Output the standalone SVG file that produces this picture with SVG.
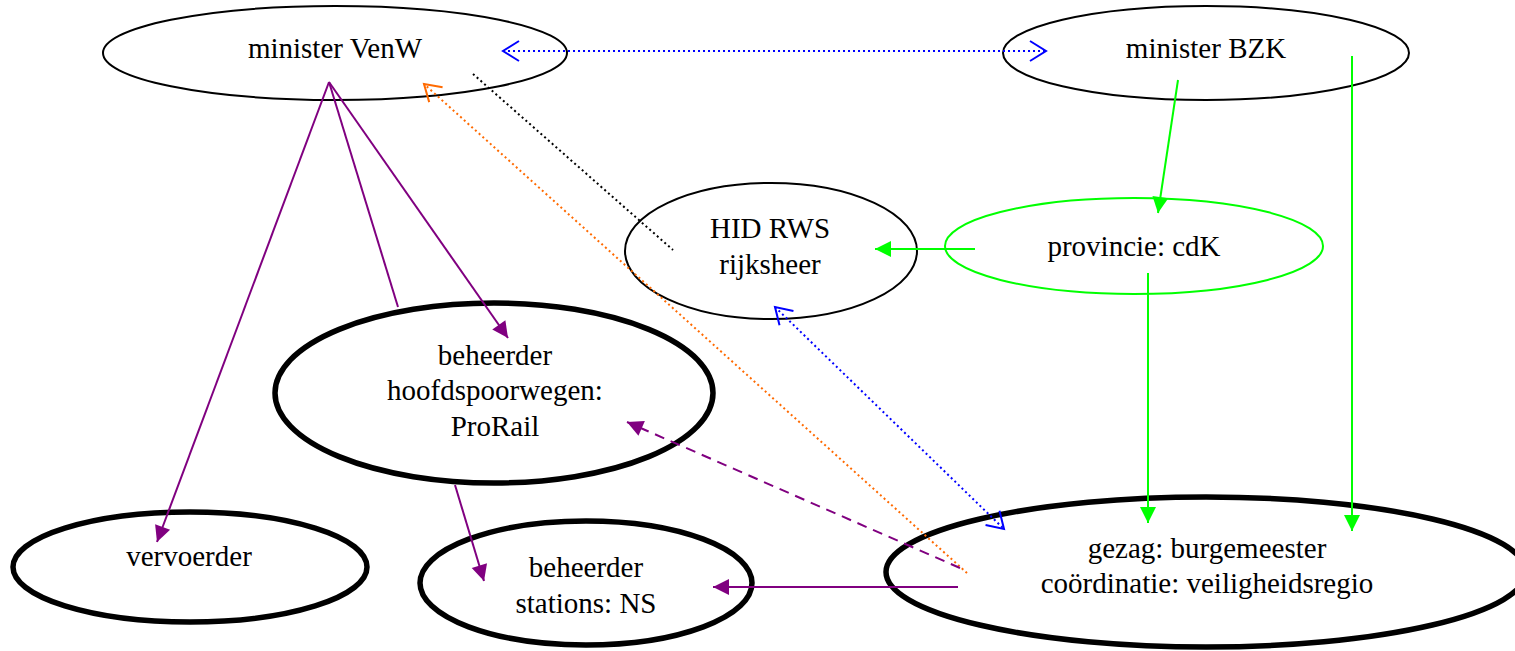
<svg xmlns="http://www.w3.org/2000/svg" width="1515" height="651" viewBox="0 0 1515 651">
<style>
text{font-family:"Liberation Serif","Times New Roman",serif;font-size:29px;text-anchor:middle;fill:#000}
.thin{fill:none;stroke:#000;stroke-width:2}
.thick{fill:none;stroke:#000;stroke-width:5.5}
.green{fill:none;stroke:#00ff00;stroke-width:2}
.pl{fill:none;stroke:#800080;stroke-width:2}
.gl{fill:none;stroke:#00ff00;stroke-width:2}
.bl{fill:none;stroke:#0000ff;stroke-width:2;stroke-dasharray:2 3}
.ol{fill:none;stroke:#ff6a00;stroke-width:2;stroke-dasharray:2 3}
.kl{fill:none;stroke:#000;stroke-width:2;stroke-dasharray:2 3}
.pd{fill:none;stroke:#800080;stroke-width:2;stroke-dasharray:10 7}
</style>
<defs>
<marker id="fp" markerUnits="userSpaceOnUse" markerWidth="16" markerHeight="16" refX="16" refY="8" orient="auto" overflow="visible"><path d="M0,0 L16,8 L0,16 z" fill="#800080"/></marker>
<marker id="fg" markerUnits="userSpaceOnUse" markerWidth="16" markerHeight="16" refX="16" refY="8" orient="auto" overflow="visible"><path d="M0,0 L16,8 L0,16 z" fill="#00ff00"/></marker>
<marker id="ob" markerUnits="userSpaceOnUse" markerWidth="17" markerHeight="20" refX="16" refY="10" orient="auto-start-reverse" overflow="visible"><path d="M0,0 L16,10 L0,20" fill="none" stroke="#0000ff" stroke-width="2"/></marker>
<marker id="oo" markerUnits="userSpaceOnUse" markerWidth="17" markerHeight="20" refX="16" refY="10" orient="auto" overflow="visible"><path d="M0,0 L16,10 L0,20" fill="none" stroke="#ff6a00" stroke-width="2"/></marker>
</defs>
<g id="n-venw"><ellipse class="thin" cx="335" cy="53" rx="232" ry="47"/><text x="335" y="58">minister VenW</text></g>
<g id="n-bzk"><ellipse class="thin" cx="1206" cy="53" rx="203" ry="47"/><text x="1206" y="58">minister BZK</text></g>
<g id="n-hid"><ellipse class="thin" cx="771" cy="251" rx="146" ry="68"/><text x="770" y="238">HID RWS</text><text x="770" y="274">rijksheer</text></g>
<g id="n-prov"><ellipse class="green" cx="1134" cy="246" rx="189" ry="48"/><text x="1134" y="256">provincie: cdK</text></g>
<g id="n-prorail"><ellipse class="thick" cx="494" cy="393" rx="219" ry="90"/><text x="495" y="365">beheerder</text><text x="495" y="400">hoofdspoorwegen:</text><text x="495" y="436">ProRail</text></g>
<g id="n-vervoerder"><ellipse class="thick" cx="190" cy="567" rx="177" ry="55"/><text x="189" y="566">vervoerder</text></g>
<g id="n-ns"><ellipse class="thick" cx="586" cy="583" rx="166" ry="62"/><text x="586" y="577">beheerder</text><text x="586" y="613">stations: NS</text></g>
<g id="n-gezag"><ellipse class="thick" cx="1206" cy="572" rx="320" ry="75"/><text x="1207" y="558">gezag: burgemeester</text><text x="1207" y="593">coördinatie: veiligheidsregio</text></g>
<g id="connectors">
<line class="bl" x1="503" y1="51" x2="1046" y2="51" marker-start="url(#ob)" marker-end="url(#ob)"/>
<line class="kl" x1="473" y1="74" x2="673" y2="250"/>
<line class="ol" x1="967" y1="573" x2="424" y2="84" marker-end="url(#oo)"/>
<line class="bl" x1="775" y1="307" x2="1004" y2="529" marker-start="url(#ob)" marker-end="url(#ob)"/>
<line class="pd" x1="960" y1="568" x2="627" y2="422" marker-end="url(#fp)"/>
<line class="pl" x1="958" y1="587" x2="713" y2="587" marker-end="url(#fp)"/>
<line class="pl" x1="329" y1="82" x2="157" y2="542" marker-end="url(#fp)"/>
<line class="pl" x1="329" y1="82" x2="398" y2="307"/>
<line class="pl" x1="329" y1="82" x2="508" y2="338" marker-end="url(#fp)"/>
<line class="pl" x1="455" y1="485" x2="484" y2="581" marker-end="url(#fp)"/>
<line class="gl" x1="1178" y1="80" x2="1158" y2="213" marker-end="url(#fg)"/>
<line class="gl" x1="1352" y1="56" x2="1352" y2="531" marker-end="url(#fg)"/>
<line class="gl" x1="1148" y1="273" x2="1148" y2="523" marker-end="url(#fg)"/>
<line class="gl" x1="975" y1="249" x2="875" y2="249" marker-end="url(#fg)"/>
</g>
</svg>
